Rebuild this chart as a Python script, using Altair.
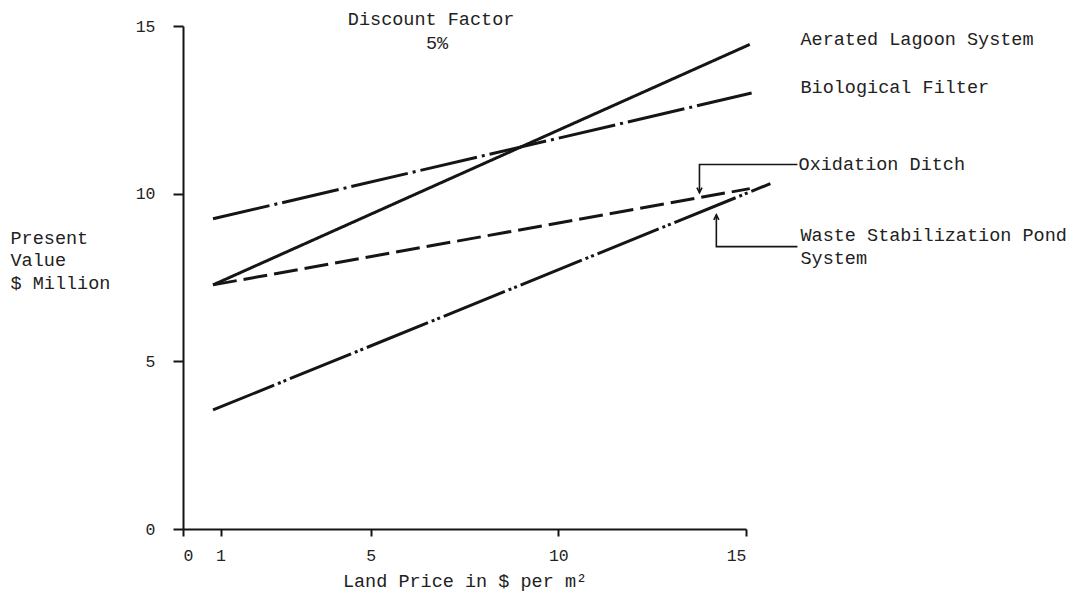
import altair as alt
import pandas as pd

# ---- data ----
series = ["Aerated Lagoon System", "Biological Filter", "Oxidation Ditch", "Waste Stabilization Pond System"]
x_start = [0.8, 0.8, 0.8, 0.8]
y_start = [7.28, 9.25, 7.28, 3.55]
x_end = [15.1, 15.15, 15.1, 15.65]
y_end = [14.45, 13.0, 10.15, 10.3]
dashes = [[1, 0], [58, 5, 3, 5], [24, 7], [66, 4, 3, 3, 3, 4]]

x_ticks = [0, 1, 5, 10, 15]
y_ticks = [0, 5, 10, 15]

label_text = ["Aerated Lagoon System", "Biological Filter", "Oxidation Ditch",
              "Waste Stabilization Pond", "System"]
label_x = [16.45, 16.45, 16.4, 16.45, 16.45]
label_y = [14.6, 13.19, 10.87, 8.78, 8.09]

head_text = ["Discount Factor", "5%"]
head_x = [6.61, 6.77]
head_y = [15.22, 14.5]

# callout leader lines (label -> elbow -> arrow tip)
call_id = ["ox", "ox", "ox", "ws", "ws", "ws"]
call_ord = [0, 1, 2, 0, 1, 2]
call_x = [16.37, 13.76, 13.76, 16.37, 14.21, 14.21]
call_y = [10.87, 10.87, 10.03, 8.42, 8.42, 9.37]

FONT = "Liberation Mono"
INK = "#151515"
TXT = "#222222"

rows = []
for s, xs, ys, xe, ye in zip(series, x_start, y_start, x_end, y_end):
    rows.append({"series": s, "x": xs, "y": ys, "o": 0})
    rows.append({"series": s, "x": xe, "y": ye, "o": 1})
lines_df = pd.DataFrame(rows)

xs = alt.Scale(domain=[0, 15], nice=False, zero=False)
ys = alt.Scale(domain=[0, 15], nice=False, zero=False)

x_axis = alt.Axis(values=x_ticks, title="Land Price in $ per m²", grid=False,
                  tickSize=7, labelPadding=11, titleY=51, titleBaseline="middle")
y_axis = alt.Axis(values=y_ticks, title=["Present", "Value", "$ Million"], grid=False,
                  tickSize=10, labelPadding=18, titleAngle=0, titleAlign="left",
                  titleX=-173, titleY=217, titleBaseline="alphabetic", titleLineHeight=22.5)

lines = alt.Chart(lines_df).mark_line(strokeWidth=3, color=INK, strokeCap="butt").encode(
    x=alt.X("x:Q", scale=xs, axis=x_axis),
    y=alt.Y("y:Q", scale=ys, axis=y_axis),
    detail="series:N",
    order="o:Q",
    strokeDash=alt.StrokeDash("series:N", scale=alt.Scale(domain=series, range=dashes), legend=None),
)

labels = alt.Chart(pd.DataFrame({"t": label_text, "x": label_x, "y": label_y})).mark_text(
    align="left", baseline="middle", font=FONT, fontSize=18.5, color=TXT
).encode(x=alt.X("x:Q", scale=xs), y=alt.Y("y:Q", scale=ys), text="t:N")

heads = alt.Chart(pd.DataFrame({"t": head_text, "x": head_x, "y": head_y})).mark_text(
    align="center", baseline="middle", font=FONT, fontSize=18.5, color=TXT
).encode(x=alt.X("x:Q", scale=xs), y=alt.Y("y:Q", scale=ys), text="t:N")

call_df = pd.DataFrame({"id": call_id, "o": call_ord, "x": call_x, "y": call_y})
callouts = alt.Chart(call_df).mark_line(strokeWidth=1.6, color=INK).encode(
    x=alt.X("x:Q", scale=xs), y=alt.Y("y:Q", scale=ys), detail="id:N", order="o:Q"
)

tips = call_df[call_df["o"] == 2]
tip_down = alt.Chart(tips[tips["id"] == "ox"]).mark_point(
    shape="M-0.8,-1.6L0,0L0.8,-1.6", size=40, filled=False, strokeWidth=1.6, color=INK, opacity=1
).encode(x=alt.X("x:Q", scale=xs), y=alt.Y("y:Q", scale=ys))
tip_up = alt.Chart(tips[tips["id"] == "ws"]).mark_point(
    shape="M-0.8,1.6L0,0L0.8,1.6", size=40, filled=False, strokeWidth=1.6, color=INK, opacity=1
).encode(x=alt.X("x:Q", scale=xs), y=alt.Y("y:Q", scale=ys))

chart = alt.layer(lines, callouts, tip_down, tip_up, labels, heads).properties(
    width=563, height=503,
    autosize=alt.AutoSizeParams(type="none"),
    padding={"left": 183, "top": 26, "right": 336, "bottom": 71},
    background="white",
).configure_view(stroke=None).configure_axis(
    domainColor=INK, domainWidth=2, tickColor=INK, tickWidth=2,
    labelFont=FONT, labelFontSize=16.5, labelColor=TXT,
    titleFont=FONT, titleFontSize=18.5, titleFontWeight="normal", titleColor=TXT,
)

chart.save("out.html", embed_options={"renderer": "svg", "actions": False})
